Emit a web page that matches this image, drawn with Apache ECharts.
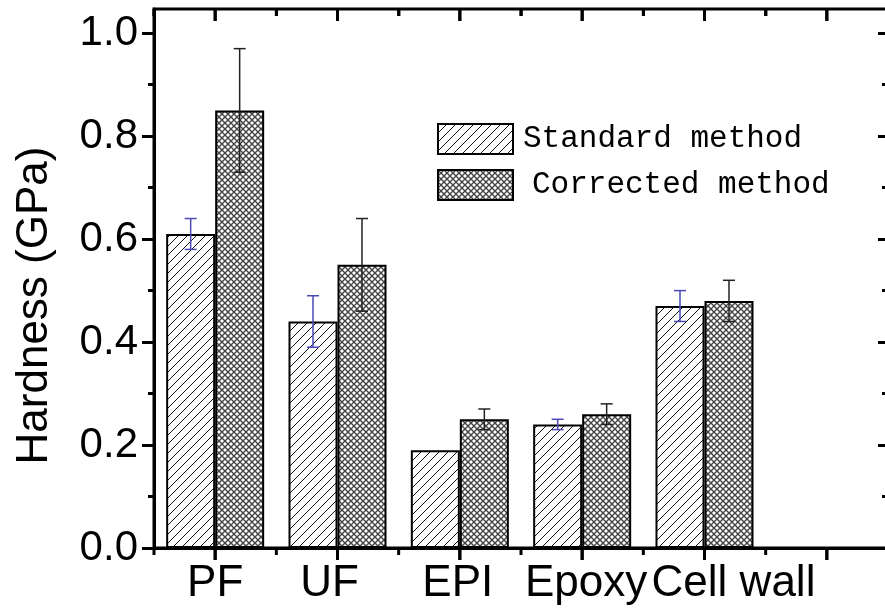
<!DOCTYPE html>
<html><head><meta charset="utf-8">
<script src="https://cdn.jsdelivr.net/npm/echarts@6/dist/echarts.min.js"></script>
<style>html,body{margin:0;padding:0;background:#fff}#chart{width:885px;height:610px}</style>
</head><body><div id="chart"></div>
<script>
const categories = ['PF', 'UF', 'EPI', 'Epoxy', 'Cell wall', ''];
const seriesNames = ['Standard method', 'Corrected method'];
const standardValues = [0.61, 0.44, 0.19, 0.24, 0.47];
const standardErrors = [0.03, 0.05, 0, 0.01, 0.03];
const correctedValues = [0.85, 0.55, 0.25, 0.26, 0.48];
const correctedErrors = [0.12, 0.09, 0.02, 0.02, 0.04];
const yMajorTicks = [0, 0.2, 0.4, 0.6, 0.8, 1.0];
const yMinorTicks = [0.1, 0.3, 0.5, 0.7, 0.9];
const yAxisMax = 1.047;
const yTitle = 'Hardness (GPa)';

function hatchPattern() {
  const c = document.createElement('canvas');
  c.width = 9; c.height = 9;
  const g = c.getContext('2d');
  g.fillStyle = '#fff'; g.fillRect(0, 0, 9, 9);
  g.strokeStyle = '#111'; g.lineWidth = 1;
  g.beginPath();
  g.moveTo(-1, 10); g.lineTo(10, -1);
  g.moveTo(-1, 1); g.lineTo(1, -1);
  g.moveTo(8, 10); g.lineTo(10, 8);
  g.stroke();
  return c;
}
function crossPattern() {
  const c = document.createElement('canvas');
  c.width = 6; c.height = 6;
  const g = c.getContext('2d');
  g.fillStyle = '#fff'; g.fillRect(0, 0, 6, 6);
  g.strokeStyle = '#444'; g.lineWidth = 1.4;
  g.beginPath();
  g.moveTo(-1, -1); g.lineTo(7, 7);
  g.moveTo(-1, 7); g.lineTo(7, -1);
  g.stroke();
  return c;
}

const BAR_W = 49;
function errorSeries(name, values, errors, offset, color) {
  return {
    type: 'custom', name: name, z: 10, silent: true,
    xAxisIndex: 0, yAxisIndex: 0,
    data: values.map((v, i) => [i, v - errors[i], v + errors[i], errors[i]]),
    encode: { x: 0, y: [1, 2] },
    renderItem: function (params, api) {
      if (api.value(3) === 0) return null;
      const lo = api.coord([api.value(0), api.value(1)]);
      const hi = api.coord([api.value(0), api.value(2)]);
      const x = lo[0] + offset;
      return { type: 'group', children: [
        { type: 'line', shape: { x1: x, y1: lo[1], x2: x, y2: hi[1] }, style: { stroke: color, lineWidth: 1.5 } },
        { type: 'line', shape: { x1: x - 6, y1: lo[1], x2: x + 6, y2: lo[1] }, style: { stroke: color, lineWidth: 1.5 } },
        { type: 'line', shape: { x1: x - 6, y1: hi[1], x2: x + 6, y2: hi[1] }, style: { stroke: color, lineWidth: 1.5 } }
      ]};
    }
  };
}

// frame ticks placed by the category scale (bottom outward, top inward) + top border
const frameSeries = {
  type: 'custom', z: 20, clip: false, silent: true,
  xAxisIndex: 0, yAxisIndex: 0,
  data: categories.map((c, i) => [i, 0.5]),
  encode: { x: 0, y: 1 },
  renderItem: function (params, api) {
    const cs = params.coordSys;
    const cx = api.coord([api.value(0), api.value(1)])[0];
    const band = api.size([1, 0])[0];
    const bottom = cs.y + cs.height, top = cs.y;
    const bx = cx - band / 2;
    const ch = [
      { type: 'line', shape: { x1: cx, y1: bottom, x2: cx, y2: bottom + 12 }, style: { stroke: '#000', lineWidth: 3 } },
      { type: 'line', shape: { x1: bx, y1: bottom, x2: bx, y2: bottom + 7 }, style: { stroke: '#000', lineWidth: 3 } },
      { type: 'line', shape: { x1: cx, y1: top, x2: cx, y2: top + 12 }, style: { stroke: '#000', lineWidth: 3 } },
      { type: 'line', shape: { x1: bx, y1: top, x2: bx, y2: top + 7 }, style: { stroke: '#000', lineWidth: 3 } }
    ];
    return { type: 'group', children: ch };
  }
};

// tick marks as rect symbols anchored on the category scale
function tickScatter(yValue, w, h, dx, dy) {
  return {
    type: 'scatter', z: 21, silent: true, clip: false, legendHoverLink: false,
    xAxisIndex: 0, yAxisIndex: 0,
    data: categories.map((c, i) => [i, yValue]),
    symbol: 'rect', symbolSize: [w, h], symbolOffset: [dx, dy],
    itemStyle: { color: '#000', opacity: 1 },
    emphasis: { disabled: true }
  };
}

function axisLineStyle() { return { color: '#000', width: 3 }; }
function richLabel(pad) {
  const s = { fontSize: 44, fontFamily: 'Liberation Sans', color: '#000' };
  if (pad) s.padding = pad;
  return s;
}
const chart = echarts.init(document.getElementById('chart'));
chart.setOption({
  animation: false,
  backgroundColor: '#fff',
  textStyle: { fontFamily: 'Liberation Sans', color: '#000' },
  grid: { left: 154, top: 9, right: -3, bottom: 62, containLabel: false, outerBoundsMode: 'none',
    show: true, borderColor: '#000', borderWidth: 3, backgroundColor: 'transparent' },
  legend: {
    data: seriesNames, orient: 'vertical', left: 437, top: 123, padding: 0,
    itemWidth: 75, itemHeight: 30, itemGap: 14, icon: 'rect',
    selectedMode: false,
    itemStyle: { borderWidth: 2, borderColor: '#000' },
    textStyle: { fontFamily: 'Liberation Mono', fontSize: 31, color: '#000',
      rich: {
        a: { fontFamily: 'Liberation Mono', fontSize: 31, color: '#000', padding: [0, 0, 0, 5] },
        b: { fontFamily: 'Liberation Mono', fontSize: 31, color: '#000', padding: [0, 0, 0, 14] }
      }
    },
    formatter: function (n) { return (n === seriesNames[0] ? '{a|' : '{b|') + n + '}'; }
  },
  xAxis: [
    { type: 'category', data: categories, position: 'bottom',
      axisLine: { show: true, onZero: false, lineStyle: axisLineStyle() },
      axisTick: { show: false },
      axisLabel: { show: true, interval: 0, margin: 14, color: '#000', fontSize: 44, fontFamily: 'Liberation Sans',
        formatter: function (v, i) { return '{c' + i + '|' + v + '}'; },
        rich: {
          c0: richLabel(), c1: richLabel([0, 16, 0, 0]), c2: richLabel([0, 4, 0, 0]),
          c3: richLabel([0, 0, 0, 8]), c4: richLabel([0, 0, 0, 58]), c5: richLabel()
        }
      },
      splitLine: { show: false } }
  ],
  yAxis: [
    { type: 'value', position: 'left', min: 0, max: yAxisMax,
      name: yTitle, nameLocation: 'middle', nameRotate: 90, nameGap: 97,
      nameTextStyle: { fontSize: 44, fontFamily: 'Liberation Sans', color: '#000', padding: [0, 54, 0, 0] },
      axisLine: { show: true, onZero: false, lineStyle: axisLineStyle() },
      axisTick: { show: true, length: 12, lineStyle: axisLineStyle(), customValues: yMajorTicks },
      axisLabel: { fontSize: 42, margin: 16, color: '#000', customValues: yMajorTicks,
        formatter: function (v) { return v.toFixed(1); } },
      splitLine: { show: false } },
    { type: 'value', position: 'left', min: 0, max: yAxisMax,
      axisLine: { show: false, onZero: false },
      axisTick: { show: true, length: 6, lineStyle: axisLineStyle(), customValues: yMinorTicks },
      axisLabel: { show: false }, splitLine: { show: false } },
    { type: 'value', position: 'right', min: 0, max: yAxisMax,
      axisLine: { show: true, onZero: false, lineStyle: axisLineStyle() },
      axisTick: { show: true, inside: true, length: 10, lineStyle: axisLineStyle(), customValues: yMajorTicks },
      axisLabel: { show: false }, splitLine: { show: false } },
    { type: 'value', position: 'right', min: 0, max: yAxisMax,
      axisLine: { show: false, onZero: false },
      axisTick: { show: true, inside: true, length: 6, lineStyle: axisLineStyle(), customValues: yMinorTicks },
      axisLabel: { show: false }, splitLine: { show: false } }
  ],
  series: [
    { type: 'bar', name: seriesNames[0], data: standardValues, barWidth: BAR_W, barGap: '0%',
      xAxisIndex: 0, yAxisIndex: 0,
      itemStyle: { color: { image: hatchPattern(), repeat: 'repeat' }, borderColor: '#000', borderWidth: 2 } },
    { type: 'bar', name: seriesNames[1], data: correctedValues, barWidth: BAR_W, barGap: '0%',
      xAxisIndex: 0, yAxisIndex: 0,
      itemStyle: { color: { image: crossPattern(), repeat: 'repeat' }, borderColor: '#000', borderWidth: 2 } },
    errorSeries('errStandard', standardValues, standardErrors, -BAR_W / 2, '#4a4ab4'),
    errorSeries('errCorrected', correctedValues, correctedErrors, BAR_W / 2, '#222'),
    frameSeries,
    tickScatter(0, 3, 12, 0, 6),
    tickScatter(yAxisMax, 3, 12, 0, 6),
    tickScatter(yAxisMax, 3, 7, -61, 3.5)
  ]
});
</script>
</body></html>
